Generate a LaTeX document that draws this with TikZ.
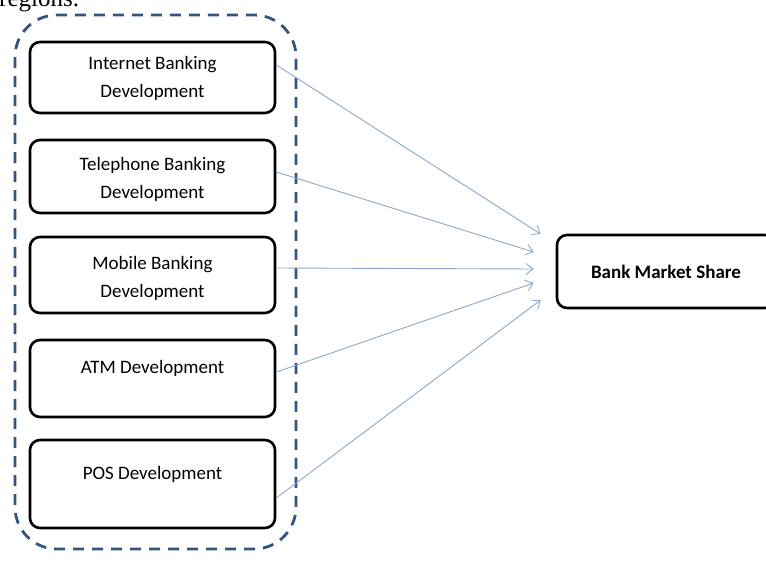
\documentclass[tikz,border=0pt]{standalone}
\usepackage{fontspec}
\setmainfont{Carlito}
\newfontfamily\captionserif{Liberation Serif}
\usetikzlibrary{arrows.meta}
\definecolor{groupblue}{HTML}{34547E}
\definecolor{linkblue}{HTML}{8FA6CC}
\tikzset{
  factorbox/.style={draw=black, line width=2.6pt, rounded corners=10pt,
    minimum width=245pt, inner sep=0pt},
  factortext/.style={align=center, font=\fontsize{19}{28}\selectfont, inner sep=0pt},
  outcomebox/.style={draw=black, line width=2.6pt, rounded corners=10pt,
    minimum width=218pt, minimum height=73pt, inner sep=0pt,
    font=\fontsize{19}{22}\selectfont\bfseries},
  groupframe/.style={draw=groupblue, line width=2.8pt, rounded corners=42pt,
    dash pattern=on 11pt off 8pt},
  link/.style={draw=linkblue, line width=0.9pt,
    -{Straight Barb[length=7pt, width=11pt, line width=0.9pt]}}
}
\begin{document}
\begin{tikzpicture}[x=1pt, y=-1pt]
  \useasboundingbox (0,0) rectangle (766,562);
  \clip (0,0) rectangle (766,562);

  % fragment of the caption line above the figure
  \node[anchor=base west, inner sep=0pt, font=\captionserif\fontsize{25}{25}\selectfont]
    (caption) at (-1,6) {regions.};

  % dashed grouping frame
  \draw[groupframe] (15,15) rectangle (296,549);

  % factor boxes
  \node[factorbox, minimum height=71pt] (b1) at (152.5,77.5) {};
  \node[factorbox, minimum height=73pt] (b2) at (152.5,176.5) {};
  \node[factorbox, minimum height=76pt] (b3) at (152.5,275) {};
  \node[factorbox, minimum height=77pt] (b4) at (152.5,378.5) {};
  \node[factorbox, minimum height=88pt] (b5) at (152.5,484) {};

  \node[factortext] (t1) at (152.5,78) {Internet Banking\\Development};
  \node[factortext] (t2) at (152.5,179) {Telephone Banking\\Development};
  \node[factortext] (t3) at (152.5,278) {Mobile Banking\\Development};
  \node[factortext] (t4) at (152.5,368) {ATM Development};
  \node[factortext] (t5) at (152.5,474) {POS Development};

  % outcome box
  \node[outcomebox] (ms) at (666,271.5) {Bank Market Share};

  % arrow end points in front of the outcome box (yshift is upward)
  \coordinate (e1) at ([xshift=-15pt, yshift=37.5pt]ms.west);
  \coordinate (e2) at ([xshift=-22pt, yshift=19.5pt]ms.west);
  \coordinate (e3) at ([xshift=-22pt, yshift=2.5pt]ms.west);
  \coordinate (e4) at ([xshift=-22pt, yshift=-11.5pt]ms.west);
  \coordinate (e5) at ([xshift=-15pt, yshift=-28.5pt]ms.west);

  % links from each factor to the outcome
  \draw[link] ([yshift=12.5pt]b1.east) -- (e1);
  \draw[link] ([yshift=4.5pt]b2.east) -- (e2);
  \draw[link] ([yshift=7pt]b3.east) -- (e3);
  \draw[link] ([yshift=6.5pt]b4.east) -- (e4);
  \draw[link] ([yshift=-14pt]b5.east) -- (e5);
\end{tikzpicture}
\end{document}
